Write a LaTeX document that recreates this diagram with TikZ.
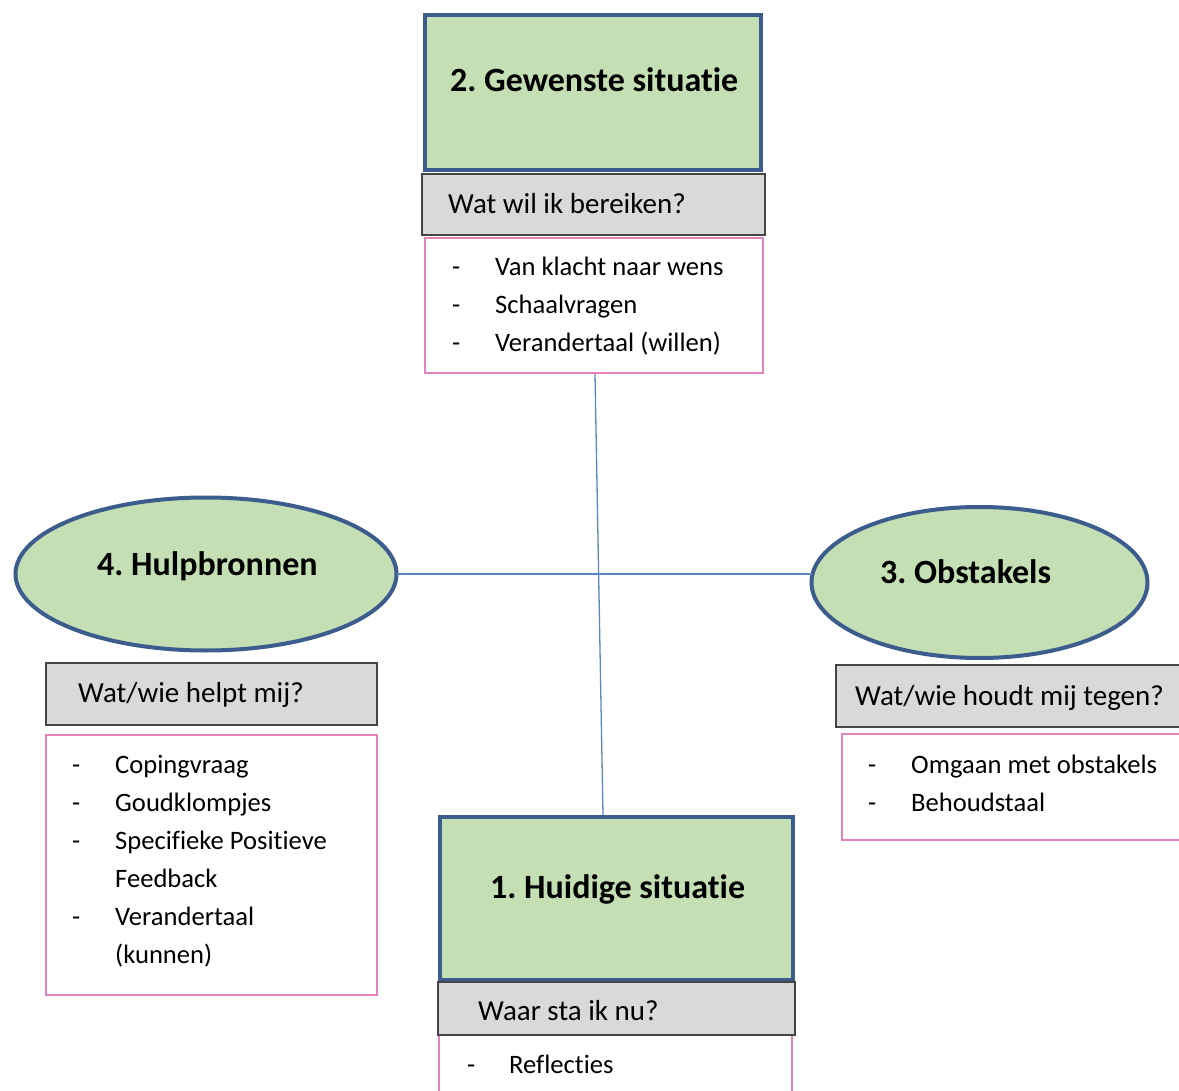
\documentclass[tikz,border=0pt]{standalone}
\usepackage{fontspec}
\setmainfont{Carlito}[Ligatures={NoCommon,NoContextual}]
\usetikzlibrary{shapes.geometric}
\definecolor{boxgreen}{HTML}{C4DFB3}
\definecolor{boxblue}{HTML}{3B5C8C}
\definecolor{boxgray}{HTML}{D9D9D9}
\definecolor{grayline}{HTML}{454545}
\definecolor{pinkline}{HTML}{E184BD}
\definecolor{linkblue}{HTML}{5B88C0}
\frenchspacing
\begin{document}
\begin{tikzpicture}[x=1pt,y=-1pt,
  greenbox/.style={draw=boxblue, fill=boxgreen, line width=4pt, anchor=north west, inner sep=0pt, outer sep=0pt},
  greenoval/.style={ellipse, draw=boxblue, fill=boxgreen, line width=4pt, inner sep=0pt, outer sep=0pt},
  graybox/.style={draw=grayline, fill=boxgray, line width=1.5pt, anchor=north west, inner sep=0pt, outer sep=0pt},
  pinkbox/.style={draw=pinkline, fill=white, line width=1.5pt, anchor=north west, inner sep=0pt, outer sep=0pt},
  link/.style={draw=linkblue, line width=1.3pt},
  headtxt/.style={anchor=base west, inner sep=0pt, font=\fontsize{34}{40}\selectfont\bfseries},
  asktxt/.style={anchor=base west, inner sep=0pt, font=\fontsize{29}{36}\selectfont},
  itemtxt/.style={anchor=base west, inner sep=0pt, font=\fontsize{26.6}{38}\selectfont},
]
\useasboundingbox (0,0) rectangle (1179,1091);
\fill[white] (0,0) rectangle (1179,1091);
\clip (0,0) rectangle (1179,1091);

% connectors
\coordinate (vt) at (595,374);
\coordinate (vb) at (603,815);
\draw[link] (vt) -- (vb);

% top: 2. Gewenste situatie
\node[greenbox, minimum width=336pt, minimum height=155pt] (g2) at (425,15) {};
\node[graybox, minimum width=343pt, minimum height=61pt] (q2) at (422,174) {};
\node[pinkbox, minimum width=338pt, minimum height=135pt] (p2) at (425,238) {};
\node[headtxt] (h2) at (450,92) {2. Gewenste situatie};
\node[asktxt] (a2) at (448,214) {Wat wil ik bereiken?};
\node[itemtxt] (d2a) at (452,276) {-};
\node[itemtxt] (t2a) at (495,276) {Van klacht naar wens};
\node[itemtxt] (d2b) at (452,314) {-};
\node[itemtxt] (t2b) at (495,314) {Schaalvragen};
\node[itemtxt] (d2c) at (452,352) {-};
\node[itemtxt] (t2c) at (495,352) {Verandertaal (willen)};

% left: 4. Hulpbronnen
\node[greenoval, minimum width=381pt, minimum height=153pt] (e4) at (206,574) {};
% right: 3. Obstakels
\node[greenoval, minimum width=336pt, minimum height=151pt] (e3) at (979.5,582.5) {};
\draw[link] (e4.east) -- (e4.east -| e3.west);
\node[headtxt] (h4) at (97,575) {4. Hulpbronnen};
\node[headtxt] (h3) at (880,583) {3. Obstakels};

\node[graybox, minimum width=331pt, minimum height=62pt] (q4) at (46,663) {};
\node[pinkbox, minimum width=331pt, minimum height=260pt] (p4) at (46,735) {};
\node[asktxt] (a4) at (78,702) {Wat/wie helpt mij?};
\node[itemtxt] (d4a) at (72,773) {-};
\node[itemtxt] (t4a) at (115,773) {Copingvraag};
\node[itemtxt] (d4b) at (72,811) {-};
\node[itemtxt] (t4b) at (115,811) {Goudklompjes};
\node[itemtxt] (d4c) at (72,849) {-};
\node[itemtxt] (t4c) at (115,849) {Specifieke Positieve};
\node[itemtxt] (t4d) at (115,887) {Feedback};
\node[itemtxt] (d4e) at (72,925) {-};
\node[itemtxt] (t4e) at (115,925) {Verandertaal};
\node[itemtxt] (t4f) at (115,963) {(kunnen)};

\node[graybox, minimum width=370pt, minimum height=62pt] (q3) at (836,665) {};
\node[pinkbox, minimum width=364pt, minimum height=106pt] (p3) at (842,734) {};
\node[asktxt] (a3) at (855,705) {Wat/wie houdt mij tegen?};
\node[itemtxt] (d3a) at (868,773) {-};
\node[itemtxt] (t3a) at (911,773) {Omgaan met obstakels};
\node[itemtxt] (d3b) at (868,811) {-};
\node[itemtxt] (t3b) at (911,811) {Behoudstaal};

% bottom: 1. Huidige situatie
\node[pinkbox, minimum width=353pt, minimum height=80pt] (p1) at (439,1035) {};
\node[greenbox, minimum width=353pt, minimum height=163pt] (g1) at (440,817) {};
\node[graybox, minimum width=357pt, minimum height=53pt] (q1) at (438,982) {};
\node[headtxt] (h1) at (490,898) {1. Huidige situatie};
\node[asktxt] (a1) at (478,1020) {Waar sta ik nu?};
\node[itemtxt] (d1a) at (467,1073) {-};
\node[itemtxt] (t1a) at (509,1073) {Reflecties};
\end{tikzpicture}
\end{document}
